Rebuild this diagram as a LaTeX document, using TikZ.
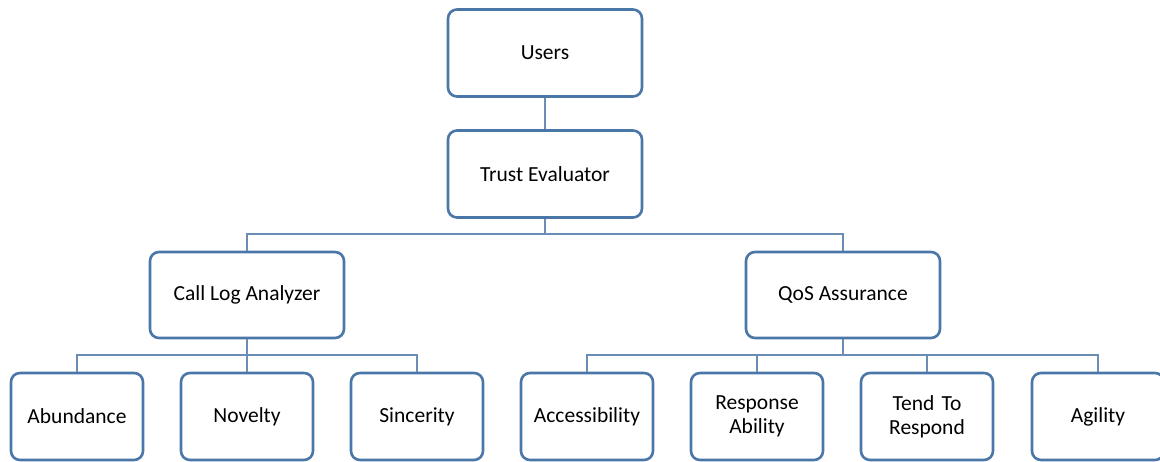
\documentclass[tikz,border=0pt]{standalone}
\usepackage{fontspec}
\setmainfont{Carlito}
\definecolor{boxline}{HTML}{4A76A8}
\definecolor{linkline}{HTML}{6A8DB5}
\begin{document}
\begin{tikzpicture}[x=1pt,y=-1pt,
  box/.style={draw=boxline,line width=2.6pt,rounded corners=9pt,fill=white,
    minimum width=#1,align=center,font=\fontsize{21.5}{24}\selectfont,inner sep=0pt},
  box/.default=194pt,
  topbox/.style={box,minimum height=87pt},
  leafbox/.style={box=132pt,minimum height=87pt,text width=124pt},
  link/.style={draw=linkline,line width=1.4pt}]
\useasboundingbox (0,0) rectangle (1160,462);
\clip (0,0) rectangle (1160,462);
% nodes
\node[topbox] (users) at (545,53) {Users};
\node[topbox] (trust) at (545,174) {Trust Evaluator};
\node[topbox,minimum height=86pt] (cla) at (247,295) {Call Log Analyzer};
\node[topbox,minimum height=86pt] (qos) at (843,295) {QoS Assurance};
\node[leafbox] (abu) at (77,416.5) {Abundance};
\node[leafbox] (nov) at (247,416.5) {Novelty};
\node[leafbox] (sin) at (417,416.5) {Sincerity};
\node[leafbox] (acc) at (587,416.5) {Accessibility};
\node[leafbox] (res) at (757,416.5) {Response\\Ability};
\node[leafbox] (ten) at (927,416.5) {Tend To\\Respond};
\node[leafbox] (agi) at (1098,416.5) {Agility};
% bus levels
\coordinate (busA) at (545,234);
\coordinate (busL) at (247,355);
\coordinate (busR) at (843,355);
% connectors
\draw[link] (users.south) -- (trust.north);
\draw[link] (trust.south) -- (busA);
\draw[link] (cla.north) |- (busA) -| (qos.north);
\draw[link] (cla.south) -- (busL);
\draw[link] (abu.north) |- (busL) -| (sin.north);
\draw[link] (nov.north) -- (busL);
\draw[link] (qos.south) -- (busR);
\draw[link] (acc.north) |- (busR) -| (agi.north);
\draw[link] (res.north) -- (res.north |- busR);
\draw[link] (ten.north) -- (ten.north |- busR);
\end{tikzpicture}
\end{document}
